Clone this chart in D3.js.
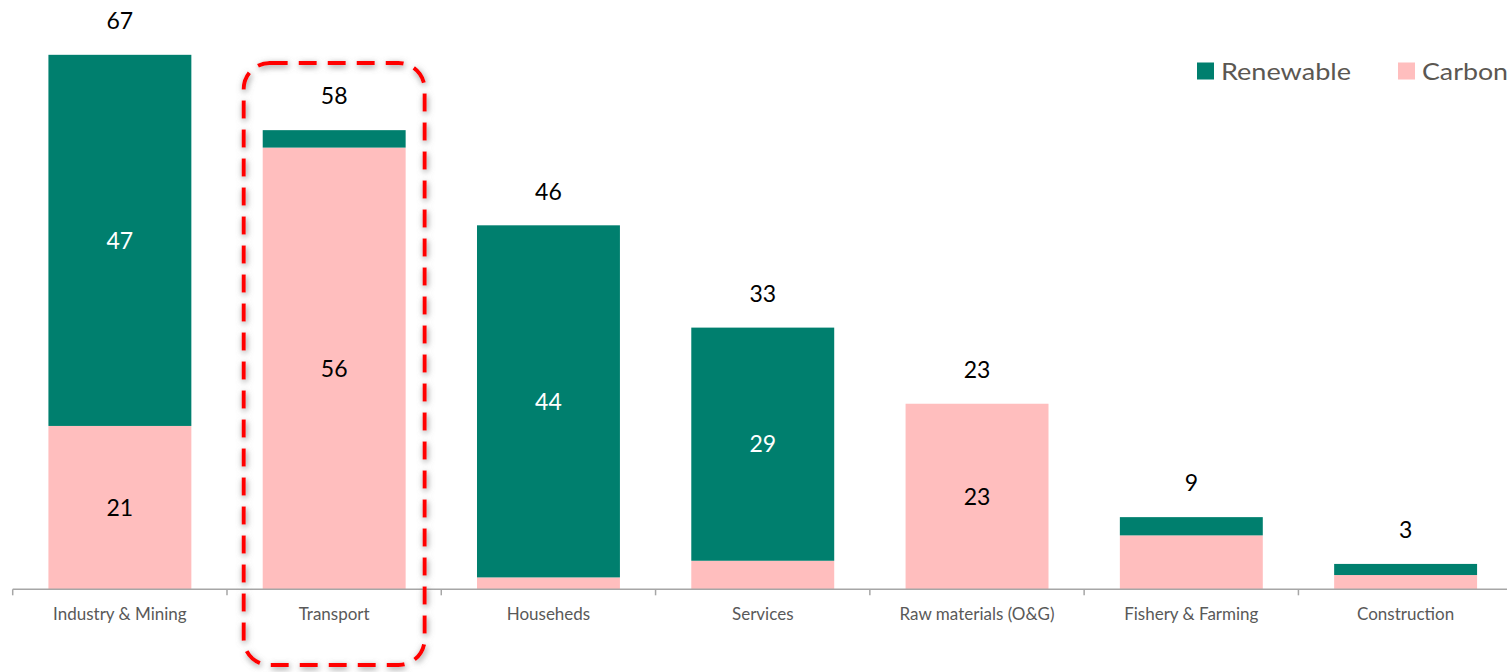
<!DOCTYPE html>
<html><head><meta charset="utf-8">
<script src="https://cdn.jsdelivr.net/npm/d3@7"></script>
<style>body{margin:0;background:#fff;} svg{display:block;}</style>
</head><body>
<svg id="chart" width="1507" height="672"></svg>
<script>
const categories = ["Industry & Mining","Transport","Househeds","Services","Raw materials (O&G)","Fishery & Farming","Construction"];
const carbon =    [20.6, 55.7, 1.5, 3.6, 23.4, 6.8, 1.8];
const renewable = [46.8, 2.2, 44.4, 29.4, 0, 2.3, 1.4];
const seriesNames = ["Renewable","Carbon"];
const colors = {Renewable:"#007F6E", Carbon:"#FFBEBE"};
const highlight = "Transport";

const svg = d3.select("#chart");
const font = "Lato, 'Open Sans', sans-serif";
const baseY = 589.3;
const x = d3.scaleBand().domain(categories).range([12.7, 12.7 + 7*214.3]).paddingInner(0.333).paddingOuter(0.1667);
const y = d3.scaleLinear().domain([0, 70]).range([baseY, baseY - 70*7.93]);

const data = categories.map((c,i)=>({cat:c, Carbon:carbon[i], Renewable:renewable[i]}));
const stack = d3.stack().keys(["Carbon","Renewable"])(data);

// bars
const g = svg.append("g");
stack.forEach(layer=>{
  g.selectAll(null).data(layer).enter().append("rect")
    .attr("x", d=>x(d.data.cat))
    .attr("width", x.bandwidth())
    .attr("y", d=>y(d[1]))
    .attr("height", d=>Math.max(0, y(d[0]) - y(d[1])))
    .attr("fill", colors[layer.key]);
  g.selectAll(null).data(layer.filter(d=>(d[1]-d[0])>=10)).enter().append("text")
    .attr("x", d=>x(d.data.cat)+x.bandwidth()/2)
    .attr("y", d=>(y(d[0])+y(d[1]))/2)
    .attr("dy","0.36em")
    .attr("text-anchor","middle")
    .attr("font-family", font).attr("font-size", 23)
    .attr("fill", layer.key==="Renewable" ? "#ffffff" : "#000000")
    .text(d=>d3.format(".0f")(d[1]-d[0]));
});

// totals
g.selectAll(null).data(data).enter().append("text")
  .attr("x", d=>x(d.cat)+x.bandwidth()/2)
  .attr("y", d=>y(d.Carbon+d.Renewable) - 34)
  .attr("dy","0.36em")
  .attr("text-anchor","middle")
  .attr("font-family", font).attr("font-size", 23)
  .attr("fill","#000")
  .text(d=>d3.format(".0f")(d.Carbon+d.Renewable));

// axis
const axisG = svg.append("g").attr("transform", `translate(0,${baseY})`);
axisG.append("line").attr("x1", 12.7).attr("x2", 1507).attr("y1",0).attr("y2",0)
  .attr("stroke","#A6A6A6").attr("stroke-width",1.5);
categories.forEach((c,i)=>{
  const b = x(c) - x.step()*x.paddingOuter();
  axisG.append("line").attr("x1",b).attr("x2",b).attr("y1",0).attr("y2",6)
    .attr("stroke","#A6A6A6").attr("stroke-width",1.5);
});
axisG.selectAll(null).data(categories).enter().append("text")
  .attr("x", c=>x(c)+x.bandwidth()/2)
  .attr("y", 25)
  .attr("dy","0.36em")
  .attr("text-anchor","middle")
  .attr("font-family", font).attr("font-size", 17)
  .attr("fill","#595959")
  .text(c=>c);

// legend
const legend = svg.append("g");
const legPos = [1197, 1398];
const legLen = [130, 86];
seriesNames.forEach((s,i)=>{
  legend.append("rect").attr("x", legPos[i]).attr("y", 62.5).attr("width",17).attr("height",17).attr("fill", colors[s]);
  legend.append("text").attr("x", legPos[i]+24).attr("y", 71).attr("dy","0.36em")
    .attr("font-family", font).attr("font-size", 24).attr("fill","#5B5752")
    .attr("textLength", legLen[i]).attr("lengthAdjust","spacingAndGlyphs").text(s);
});

// highlight box
const defs = svg.append("defs");
const f = defs.append("filter").attr("id","glow").attr("x","-10%").attr("y","-10%").attr("width","120%").attr("height","120%");
f.append("feDropShadow").attr("dx",1).attr("dy",2).attr("stdDeviation",3).attr("flood-color","#777").attr("flood-opacity",0.85);
const hx = x(highlight);
svg.append("rect")
  .attr("x", hx - 19).attr("y", 63)
  .attr("width", x.bandwidth() + 38).attr("height", 602)
  .attr("rx", 26).attr("ry", 26)
  .attr("fill","none").attr("stroke","#FF0000").attr("stroke-width",4)
  .attr("stroke-dasharray","18 11")
  .attr("filter","url(#glow)");
</script>
</body></html>
